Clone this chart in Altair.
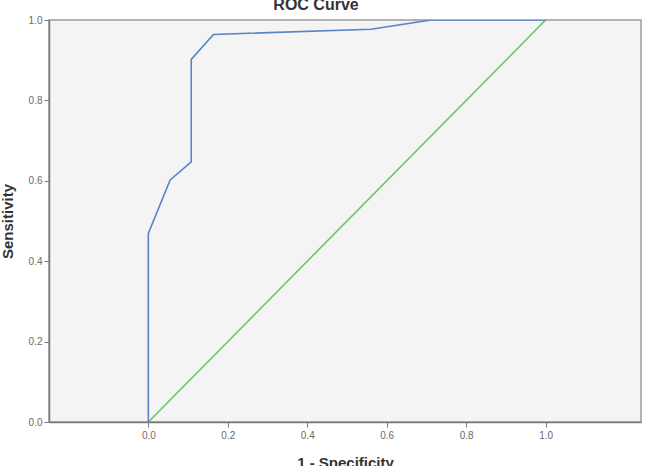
import altair as alt
import pandas as pd

# ROC curve points (1 - Specificity, Sensitivity)
roc_fpr = [0.0, 0.0, 0.055, 0.108, 0.108, 0.164, 0.560, 0.712, 1.0]
roc_tpr = [0.0, 0.469, 0.602, 0.647, 0.902, 0.964, 0.977, 1.0, 1.0]

# Reference diagonal
ref_fpr = [0.0, 1.0]
ref_tpr = [0.0, 1.0]

x_ticks = [0.0, 0.2, 0.4, 0.6, 0.8, 1.0]
y_ticks = [0.0, 0.2, 0.4, 0.6, 0.8, 1.0]

rows = []
for i, (a, b) in enumerate(zip(ref_fpr, ref_tpr)):
    rows.append({"series": "Reference Line", "order": i, "fpr": a, "tpr": b})
for i, (a, b) in enumerate(zip(roc_fpr, roc_tpr)):
    rows.append({"series": "ROC", "order": i, "fpr": a, "tpr": b})
df = pd.DataFrame(rows)

FONT = "Liberation Sans"

chart = alt.Chart(df).mark_line(strokeWidth=1.6, clip=True).encode(
    x=alt.X("fpr:Q",
            scale=alt.Scale(domain=[-0.25, 1.24], nice=False, zero=False),
            axis=alt.Axis(values=x_ticks, format=".1f", title="1 - Specificity",
                          grid=False, tickSize=5, labelPadding=3,
                          titleY=45, titleBaseline="alphabetic")),
    y=alt.Y("tpr:Q",
            scale=alt.Scale(domain=[0, 1], nice=False),
            axis=alt.Axis(values=y_ticks, format=".1f", title="Sensitivity",
                          grid=False, tickSize=5, labelPadding=2,
                          titleX=-37, titleBaseline="alphabetic")),
    color=alt.Color("series:N",
                    scale=alt.Scale(domain=["ROC", "Reference Line"],
                                    range=["#5a82c6", "#6cc56c"]),
                    legend=None),
    order="order:Q",
    detail="series:N",
).properties(
    width=592,
    height=402,
    background="white",
    title=alt.TitleParams("ROC Curve", fontSize=16, fontWeight="bold",
                          color="#333333", font=FONT, anchor="middle",
                          dx=-29, dy=14, baseline="alphabetic", offset=3),
    autosize=alt.AutoSizeParams(type="none"),
    padding={"left": 49, "top": 20, "right": 4, "bottom": 44},
).configure_view(
    fill="#f4f4f4", stroke="#9a9a9a", strokeWidth=1.5
).configure_axis(
    labelFont=FONT, labelFontSize=10, labelColor="#6a6a6a",
    titleFont=FONT, titleFontSize=15, titleFontWeight="bold", titleColor="#333333",
    domainColor="#7a7a7a", domainWidth=1.5, tickColor="#7a7a7a", tickWidth=1,
)

chart.save("out.html", embed_options={"renderer": "svg", "actions": False})
